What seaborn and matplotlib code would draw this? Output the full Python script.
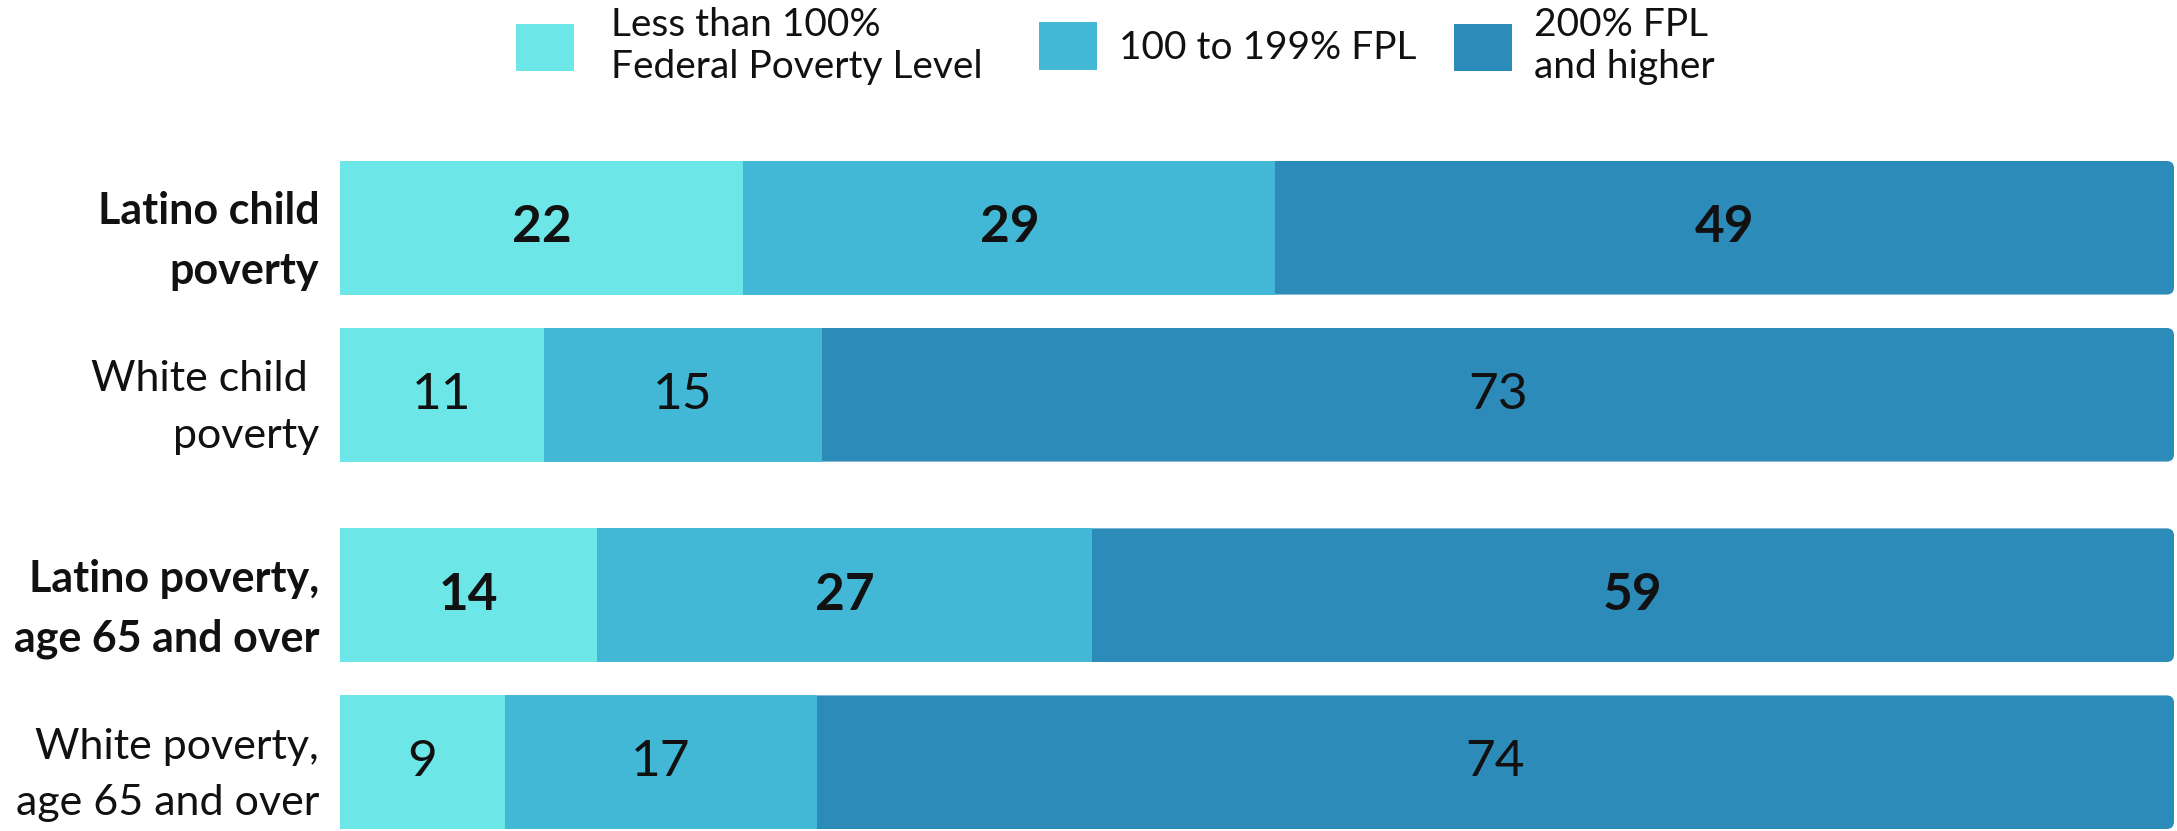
import numpy as np
import seaborn as sns
import matplotlib.pyplot as plt
from matplotlib.patches import FancyBboxPatch, Patch


# rows of the chart, top to bottom
groups = ["Latino child\npoverty", "White child \npoverty",
          "Latino poverty,\nage 65 and over", "White poverty,\nage 65 and over"]
bold_rows = [True, False, True, False]

# share of each group (percent) by income band
below_100 = [22, 11, 14, 9]
fpl_100_199 = [29, 15, 27, 17]
fpl_200_up = [49, 73, 59, 74]

band_names = ["Less than 100%\nFederal Poverty Level", "100 to 199% FPL", "200% FPL\nand higher"]
band_colors = ["#6de6e8", "#42b8d6", "#2d8bba"]

# row positions, with a bit more room between the child and the 65+ pairs
y_pos = [0, 1, 2.2, 3.2]

sns.set_theme(style="white")
plt.rcParams['font.family'] = ['Lato', 'DejaVu Sans']

# stack as a 100% bar (one row only adds to 99)
vals = np.array([below_100, fpl_100_199, fpl_200_up], dtype=float)
shares = vals / vals.sum(axis=0) * 100
cum = np.cumsum(shares, axis=0)

fig = plt.figure(figsize=(21.77, 8.31), dpi=100)
ax = fig.add_axes([340 / 2177, 0.0024, 1834 / 2177, 0.8039])

# draw the longest bars first, shorter ones on top
for k in [2, 1, 0]:
    n_before = len(ax.patches)
    sns.barplot(x=cum[k], y=y_pos, orient='h', native_scale=True,
                color=band_colors[k], width=0.8, errorbar=None,
                linewidth=0, saturation=1, ax=ax)
    if k == 2:
        # round the right end of the full bars
        for p in ax.patches[n_before:]:
            x0, y0 = p.get_x(), p.get_y()
            w, h = p.get_width(), p.get_height()
            p.set_visible(False)
            ax.add_patch(FancyBboxPatch((x0, y0), w, h,
                                        boxstyle="round,pad=0,rounding_size=0.4",
                                        mutation_aspect=0.11,
                                        facecolor=band_colors[k], edgecolor='none',
                                        zorder=p.get_zorder()))

ax.set_xlim(0, 100)
ax.set_ylim(3.6, -0.4)

# value labels in the middle of each segment
for i in range(len(groups)):
    weight = 'bold' if bold_rows[i] else 'normal'
    start = 0
    for k in range(3):
        mid = start + shares[k, i] / 2
        ax.text(mid, y_pos[i], f"{int(vals[k, i])}", ha='center', va='center',
                fontsize=37, fontweight=weight, color='#111111')
        start = cum[k, i]

ax.set_yticks(y_pos)
ax.set_yticklabels(groups)
for lab, b in zip(ax.get_yticklabels(), bold_rows):
    lab.set_fontsize(31)
    lab.set_fontweight('bold' if b else 'normal')
    lab.set_linespacing(1.6)
    lab.set_horizontalalignment('right')
    lab.set_multialignment('right')
    lab.set_color('#111111')
ax.tick_params(axis='y', length=0, pad=15)
ax.set_xticks([])
ax.set_xlabel('')
ax.set_ylabel('')
sns.despine(ax=ax, left=True, bottom=True)

# legend entries placed one by one, like the original layout
legend_x = [516 / 2177, 1039 / 2177, 1454 / 2177]
text_pad = [0.95, 0.56, 0.56]
for name, c, lx, tp in zip(band_names, band_colors, legend_x, text_pad):
    leg = fig.legend([Patch(facecolor=c, edgecolor='none')], [name],
                     loc='center left', bbox_to_anchor=(lx, 0.9446),
                     frameon=False, fontsize=28, handlelength=1.5, handleheight=1.5,
                     handletextpad=tp, borderpad=0, borderaxespad=0,
                     labelcolor='#111111')

fig.savefig("out.png", dpi=100)
